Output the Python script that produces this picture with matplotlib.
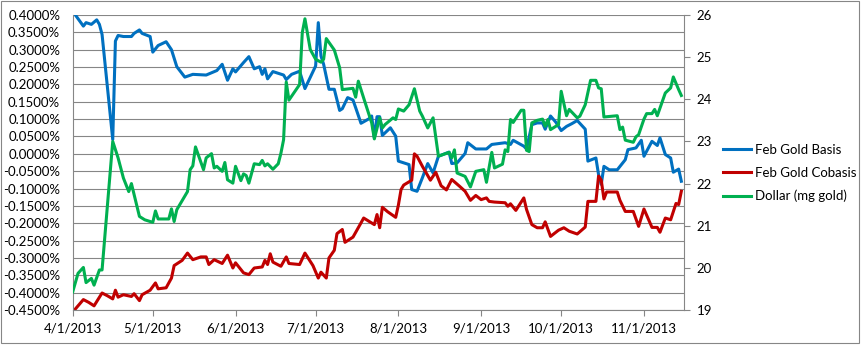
import pandas as pd
import matplotlib.pyplot as plt
from matplotlib.patches import Rectangle
from matplotlib.ticker import FuncFormatter, MultipleLocator
import matplotlib.dates as mdates

START = pd.Timestamp('2013-04-01')

# days since 4/1/2013 and values for each series
basis_days = [1, 4, 5, 7, 9, 10, 11, 15, 16, 17, 19, 22, 23, 25, 26, 29, 30, 32, 35, 37,
              39, 42, 45, 50, 54, 56, 58, 60, 61, 64, 66, 68, 70, 71, 72, 73, 75, 79, 80, 82,
              85, 87, 91, 92, 93, 94, 96, 98, 100, 101, 103, 105, 106, 108, 111, 112, 113, 114, 115, 116,
              119, 121, 122, 126, 127, 129, 131, 133, 135, 137, 141, 142, 144, 147, 148, 151, 155, 157, 162, 164,
              165, 169, 170, 172, 174, 176, 177, 179, 181, 183, 185, 187, 189, 192, 193, 196, 197, 198, 199, 201,
              204, 207, 208, 211, 213, 214, 217, 219, 220, 222, 224, 225, 227, 228]
basis = [0.400, 0.368, 0.378, 0.373, 0.386, 0.373, 0.344, 0.041, 0.325, 0.341, 0.338, 0.338, 0.347, 0.357, 0.347, 0.338, 0.293, 0.312, 0.323, 0.300,
         0.251, 0.221, 0.229, 0.227, 0.240, 0.258, 0.212, 0.245, 0.236, 0.263, 0.280, 0.245, 0.251, 0.229, 0.245, 0.216, 0.237, 0.227, 0.214, 0.229,
         0.238, 0.188, 0.253, 0.378, 0.282, 0.258, 0.186, 0.186, 0.125, 0.130, 0.162, 0.155, 0.133, 0.088, 0.101, 0.109, 0.046, 0.107, 0.107, 0.053,
         0.075, 0.051, -0.021, -0.031, -0.103, -0.108, -0.069, -0.028, -0.055, -0.007, 0.005, -0.028, -0.026, 0.001, 0.032, 0.014, 0.014, 0.027, 0.032, 0.027,
         0.039, 0.022, 0.014, 0.084, 0.089, 0.089, 0.071, 0.109, 0.091, 0.067, 0.079, 0.087, 0.096, 0.071, -0.021, -0.012, -0.060, -0.088, -0.036, -0.046,
         -0.046, -0.017, 0.012, 0.017, 0.039, -0.007, 0.036, 0.024, 0.046, -0.002, -0.012, -0.053, -0.044, -0.079]

cobasis_days = [1, 4, 6, 8, 11, 13, 15, 16, 17, 19, 22, 23, 25, 26, 29, 31, 32, 35, 37, 38,
                41, 43, 45, 48, 50, 51, 53, 56, 58, 60, 61, 64, 66, 68, 71, 72, 73, 74, 75, 78,
                80, 81, 85, 87, 90, 92, 93, 95, 96, 98, 99, 101, 102, 105, 108, 109, 113, 114, 115, 116,
                118, 121, 122, 123, 124, 127, 128, 129, 131, 134, 136, 138, 140, 142, 145, 147, 149, 151, 153, 155,
                156, 158, 162, 163, 164, 166, 169, 170, 172, 174, 176, 177, 179, 182, 184, 186, 189, 192, 193, 196,
                197, 198, 199, 200, 204, 205, 207, 210, 212, 214, 217, 219, 220, 222, 224, 226, 227, 228]
cobasis = [-0.447, -0.420, -0.428, -0.438, -0.401, -0.409, -0.418, -0.393, -0.413, -0.406, -0.411, -0.403, -0.423, -0.406, -0.393, -0.372, -0.389, -0.386, -0.358, -0.322,
           -0.307, -0.286, -0.305, -0.297, -0.297, -0.319, -0.305, -0.316, -0.292, -0.329, -0.314, -0.343, -0.348, -0.329, -0.326, -0.307, -0.319, -0.288, -0.312, -0.324,
           -0.297, -0.316, -0.319, -0.286, -0.322, -0.358, -0.341, -0.358, -0.300, -0.278, -0.230, -0.218, -0.255, -0.240, -0.199, -0.185, -0.204, -0.175, -0.213, -0.154,
           -0.167, -0.183, -0.148, -0.103, -0.090, -0.076, 0.000, -0.007, -0.036, -0.076, -0.053, -0.092, -0.104, -0.074, -0.094, -0.108, -0.134, -0.120, -0.132, -0.127,
           -0.137, -0.139, -0.141, -0.151, -0.144, -0.163, -0.127, -0.160, -0.204, -0.213, -0.213, -0.196, -0.238, -0.220, -0.213, -0.223, -0.231, -0.211, -0.137, -0.137,
           -0.064, -0.076, -0.130, -0.110, -0.110, -0.134, -0.166, -0.166, -0.209, -0.159, -0.212, -0.212, -0.226, -0.185, -0.190, -0.143, -0.146, -0.108]

dollar_days = [0, 2, 4, 5, 7, 8, 10, 11, 15, 17, 19, 21, 22, 25, 27, 30, 31, 32, 36, 37,
               38, 39, 43, 44, 45, 46, 49, 50, 52, 53, 54, 56, 57, 58, 60, 61, 63, 64, 65, 66,
               68, 70, 71, 72, 73, 75, 77, 78, 79, 80, 81, 85, 86, 87, 89, 91, 93, 94, 95, 98,
               100, 101, 105, 106, 107, 109, 112, 113, 115, 116, 117, 120, 121, 122, 124, 126, 128, 130, 131, 133,
               135, 137, 141, 142, 143, 144, 147, 149, 151, 154, 155, 157, 158, 161, 162, 163, 164, 165, 168, 169,
               170, 171, 172, 174, 176, 177, 178, 179, 182, 183, 185, 186, 189, 190, 192, 194, 196, 197, 198, 199,
               204, 205, 206, 207, 210, 211, 212, 214, 215, 217, 218, 219, 222, 224, 225, 227, 228]
dollar = [19.43, 19.87, 20.01, 19.65, 19.75, 19.59, 19.95, 19.95, 23.00, 22.61, 22.13, 21.81, 22.00, 21.22, 21.14, 21.08, 21.35, 21.16, 21.16, 21.40,
          21.10, 21.38, 21.81, 22.33, 22.42, 22.87, 22.33, 22.61, 22.71, 22.37, 22.41, 22.29, 22.50, 22.09, 22.01, 22.41, 22.07, 22.23, 22.19, 22.01,
          22.47, 22.45, 22.55, 22.42, 22.47, 22.34, 22.47, 22.72, 23.04, 24.41, 23.98, 24.35, 25.58, 25.91, 25.18, 24.95, 24.88, 24.95, 25.44, 25.17,
          24.75, 24.23, 24.26, 24.05, 24.43, 24.03, 23.44, 23.06, 23.56, 23.32, 23.40, 23.56, 23.52, 23.77, 23.72, 23.87, 24.25, 23.72, 23.60, 23.32,
          23.56, 22.65, 22.74, 22.61, 22.80, 22.25, 22.17, 21.92, 22.29, 22.33, 22.03, 22.74, 22.37, 22.46, 22.80, 22.76, 23.52, 23.45, 23.74, 23.74,
          22.79, 22.76, 23.44, 23.50, 23.53, 23.36, 23.52, 23.28, 23.40, 24.19, 23.61, 23.76, 23.56, 23.60, 23.87, 24.45, 24.45, 24.27, 24.25, 23.58,
          23.61, 23.28, 23.34, 23.03, 22.98, 23.11, 23.16, 23.53, 23.66, 23.66, 23.76, 23.61, 24.15, 24.27, 24.53, 24.23, 24.09]

month_ticks = ['2013-04-01', '2013-05-01', '2013-06-01', '2013-07-01',
               '2013-08-01', '2013-09-01', '2013-10-01', '2013-11-01']


def to_dates(days):
    return START + pd.to_timedelta(days, unit='D')


plt.rcParams['font.family'] = ['Lato', 'DejaVu Sans']
plt.rcParams['font.size'] = 9.5

GRID = '#868686'
BLUE = '#0070C0'
RED = '#C00000'
GREEN = '#00B050'

fig = plt.figure(figsize=(8.61, 3.46), dpi=100)
fig.patches.append(Rectangle((1 / 861, 3 / 346), 858 / 861, 342 / 346,
                             transform=fig.transFigure, fill=False,
                             edgecolor=GRID, linewidth=0.8))

ax = fig.add_axes([72.7 / 861, 36 / 346, (684 - 72.7) / 861, 295 / 346])
ax2 = ax.twinx()

l1, = ax.plot(to_dates(basis_days), basis, color=BLUE, lw=2.2,
              solid_joinstyle='round', label='Feb Gold Basis')
l2, = ax.plot(to_dates(cobasis_days), cobasis, color=RED, lw=2.2,
              solid_joinstyle='round', label='Feb Gold Cobasis')
l3, = ax2.plot(to_dates(dollar_days), dollar, color=GREEN, lw=2.2,
               solid_joinstyle='round', label='Dollar (mg gold)')

ax.set_xlim(START, START + pd.Timedelta(days=229))
ax.set_ylim(-0.45, 0.40)
ax2.set_ylim(19, 26)

ax.yaxis.set_major_locator(MultipleLocator(0.05))
ax.yaxis.set_major_formatter(FuncFormatter(lambda v, p: f'{round(v, 4) + 0:.4f}%'))
ax.grid(axis='y', color=GRID, lw=0.8)
ax.set_axisbelow(True)

ax.set_xticks(pd.to_datetime(month_ticks))
ax.xaxis.set_major_formatter(FuncFormatter(
    lambda v, p: f'{mdates.num2date(v).month}/{mdates.num2date(v).day}/{mdates.num2date(v).year}'))

ax2.yaxis.set_major_locator(MultipleLocator(1))
ax2.yaxis.set_major_formatter(FuncFormatter(lambda v, p: f'{int(round(v))}'))

for a in (ax, ax2):
    a.spines['top'].set_visible(False)
    for s in a.spines.values():
        s.set_color(GRID)
        s.set_linewidth(0.8)
ax.spines['right'].set_visible(False)
ax2.spines['left'].set_visible(False)
ax2.spines['bottom'].set_visible(False)

ax.tick_params(axis='y', length=0, pad=9, labelcolor='black')
ax.tick_params(axis='x', length=4, width=0.8, color=GRID, pad=5, labelcolor='black')
ax2.tick_params(axis='y', length=4.3, width=0.8, color=GRID, pad=5, labelcolor='black')

fig.legend(handles=[l1, l2, l3], loc='center left',
           bbox_to_anchor=(723 / 861, 173 / 346), frameon=False,
           borderpad=0, borderaxespad=0, handlelength=2.1,
           handletextpad=0.3, labelspacing=0.85)

fig.savefig('out.png', dpi=100)
